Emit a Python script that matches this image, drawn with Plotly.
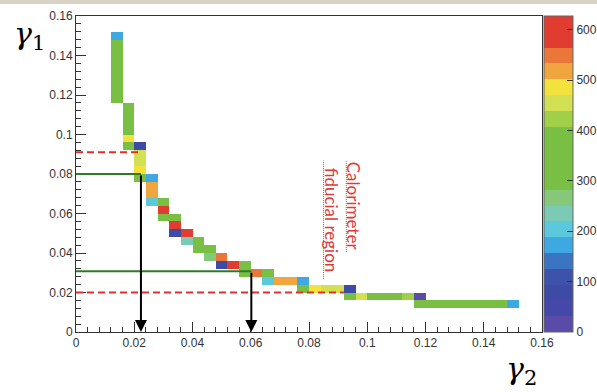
import plotly.graph_objects as go

# ---------------- data ----------------
# bin centres (gamma2 on x, gamma1 on y) and counts of the filled cells
gamma2 = [0.014]*9 + [0.018]*6 + [0.022]*5 + [0.026]*4 + [0.030]*3 + [0.034]*3 \
    + [0.038]*2 + [0.042]*2 + [0.046]*2 + [0.050]*2 + [0.054] + [0.058]*2 + [0.062] \
    + [0.066]*2 + [0.070] + [0.074] + [0.078]*2 + [0.082] + [0.086] + [0.090] + [0.094]*2 \
    + [0.098] + [0.102] + [0.106] + [0.110] + [0.114] + [0.118]*2 \
    + [0.122, 0.126, 0.130, 0.134, 0.138, 0.142, 0.146, 0.150]
gamma1 = [0.118, 0.122, 0.126, 0.130, 0.134, 0.138, 0.142, 0.146, 0.150,
          0.094, 0.098, 0.102, 0.106, 0.110, 0.114,
          0.078, 0.082, 0.086, 0.090, 0.094,
          0.066, 0.070, 0.074, 0.078,
          0.058, 0.062, 0.066,
          0.050, 0.054, 0.058,
          0.046, 0.050,
          0.042, 0.046,
          0.038, 0.042,
          0.034, 0.038,
          0.034,
          0.030, 0.034,
          0.030,
          0.026, 0.030,
          0.026,
          0.026,
          0.022, 0.026,
          0.022, 0.022, 0.022,
          0.018, 0.022,
          0.018, 0.018, 0.018, 0.018, 0.018,
          0.014, 0.018,
          0.014, 0.014, 0.014, 0.014, 0.014, 0.014, 0.014, 0.014]
counts = [350, 350, 350, 350, 350, 350, 350, 350, 175,
          350, 490, 350, 350, 350, 350,
          350, 490, 455, 455, 90,
          205, 520, 520, 175,
          350, 600, 350,
          90, 600, 350,
          235, 600,
          350, 350,
          265, 350,
          90, 545,
          600,
          350, 350,
          545,
          205, 350,
          520,
          520,
          350, 175,
          490, 455, 455,
          350, 90,
          455, 350, 350, 350, 430,
          350, 20,
          350, 350, 350, 350, 350, 350, 350, 175]

bin_width = 0.004
n_bins = 40
z_max = 627

x_ticks = [0, 0.02, 0.04, 0.06, 0.08, 0.10, 0.12, 0.14, 0.16]
x_tick_labels = ["0", "0.02", "0.04", "0.06", "0.08", "0.1", "0.12", "0.14", "0.16"]
y_ticks = x_ticks
y_tick_labels = x_tick_labels
cbar_ticks = [0, 100, 200, 300, 400, 500, 600]

# selection lines (gamma1 level, gamma2 end) and arrows
red_dash_levels = [0.091, 0.020]
red_dash_ends = [0.0225, 0.092]
green_levels = [0.080, 0.0307]
arrow_x = [0.0223, 0.0602]

band_colors = ["#5b4ba8", "#4548a8", "#3d4aa6", "#3c52ab", "#3b74c2",
               "#3ea8e2", "#5cc8dc", "#7bcab5", "#86c87a", "#79bf43",
               "#79bf43", "#79bf43", "#79bf43", "#a2cf4a", "#d3e053",
               "#f3e23d", "#f1a53f", "#ea763a", "#e03c2f", "#e03c2f"]

# ---------------- build grid ----------------
z = [[None]*n_bins for _ in range(n_bins)]
for gx, gy, c in zip(gamma2, gamma1, counts):
    i = int(round((gx - bin_width/2) / bin_width))
    j = int(round((gy - bin_width/2) / bin_width))
    z[j][i] = c

nb = len(band_colors)
colorscale = []
for k, c in enumerate(band_colors):
    colorscale.append([k/nb, c])
    colorscale.append([(k+1)/nb, c])

fig = go.Figure()
fig.add_trace(go.Heatmap(
    z=z, x0=bin_width/2, dx=bin_width, y0=bin_width/2, dy=bin_width,
    zmin=0, zmax=z_max, colorscale=colorscale, hoverinfo="skip",
    colorbar=dict(x=1.004, xanchor="left", xpad=0, ypad=0, y=0.5, yanchor="middle",
                  len=1, lenmode="fraction", thickness=29,
                  tickvals=cbar_ticks, ticks="inside", ticklen=6, tickcolor="#333",
                  outlinewidth=1, outlinecolor="#666",
                  tickfont=dict(family="Liberation Sans", size=12, color="#333")),
))

shapes = []
for lvl, end in zip(red_dash_levels, red_dash_ends):
    shapes.append(dict(type="line", xref="x", yref="y", x0=0, x1=end, y0=lvl, y1=lvl,
                       line=dict(color="#e2312b", width=2, dash="7px,4px"), layer="above"))
for lvl, ax in zip(green_levels, arrow_x):
    shapes.append(dict(type="line", xref="x", yref="y", x0=0, x1=ax, y0=lvl, y1=lvl,
                       line=dict(color="#2f7a24", width=2), layer="above"))

# top strip of the slide background
shapes.append(dict(type="rect", xref="paper", yref="paper", x0=-0.2, x1=1.2,
                   y0=1.038, y1=1.07, fillcolor="#d8d3c6", line=dict(width=0), layer="below"))

annotations = []
for ax_, lvl in zip(arrow_x, green_levels):
    annotations.append(dict(x=ax_, y=0, ax=ax_, ay=lvl, xref="x", yref="y",
                            axref="x", ayref="y", text="", showarrow=True,
                            arrowhead=2, arrowsize=1.2, arrowwidth=2, arrowcolor="black"))

# rotated label (two lines, each with a dotted underline)
label_lines = ["Calorimeter", "fiducial region"]
label_x = [0.0954, 0.0876]
label_y = [0.0635, 0.0568]
label_len = [0.046, 0.060]
for t, lx, ly, ll in zip(label_lines, label_x, label_y, label_len):
    annotations.append(dict(x=lx, y=ly, xref="x", yref="y", text=t, textangle=90,
                            showarrow=False, xanchor="center", yanchor="middle",
                            font=dict(family="Lato", size=17, color="#e03a36")))
    shapes.append(dict(type="line", xref="x", yref="y", x0=lx-0.0026, x1=lx-0.0026,
                       y0=ly-ll/2, y1=ly+ll/2,
                       line=dict(color="#e03a36", width=1, dash="1px,1px"), layer="above"))

annotations.append(dict(x=-0.137, y=1.006, xref="paper", yref="paper",
                        xanchor="left", yanchor="top",
                        text="<i>γ</i><sub>1</sub>", showarrow=False,
                        font=dict(family="DejaVu Serif", size=30, color="black")))
annotations.append(dict(x=0.955, y=-0.19, xref="paper", yref="paper",
                        xanchor="center", yanchor="bottom",
                        text="<i>γ</i><sub>2</sub>", showarrow=False,
                        font=dict(family="DejaVu Serif", size=30, color="black")))

axis_common = dict(range=[0, 0.16], ticks="inside", ticklen=10, tickwidth=1,
                   tickcolor="#333", showline=True, linecolor="#333", linewidth=1,
                   mirror=True, showgrid=False, zeroline=False,
                   minor=dict(ticks="inside", ticklen=5, dtick=0.004, tick0=0,
                              tickcolor="#333", showgrid=False),
                   tickfont=dict(family="Liberation Sans", size=12, color="#333"))

fig.update_layout(
    width=597, height=392,
    margin=dict(l=76, r=55, t=16, b=60, autoexpand=False),
    paper_bgcolor="white", plot_bgcolor="white",
    xaxis=dict(tickvals=x_ticks, ticktext=x_tick_labels, **axis_common),
    yaxis=dict(tickvals=y_ticks, ticktext=y_tick_labels, **axis_common),
    shapes=shapes, annotations=annotations, showlegend=False,
)

fig.write_html("out.html", config={"displayModeBar": False},
               post_script="document.body.style.margin='0';document.body.style.overflow='hidden';")
